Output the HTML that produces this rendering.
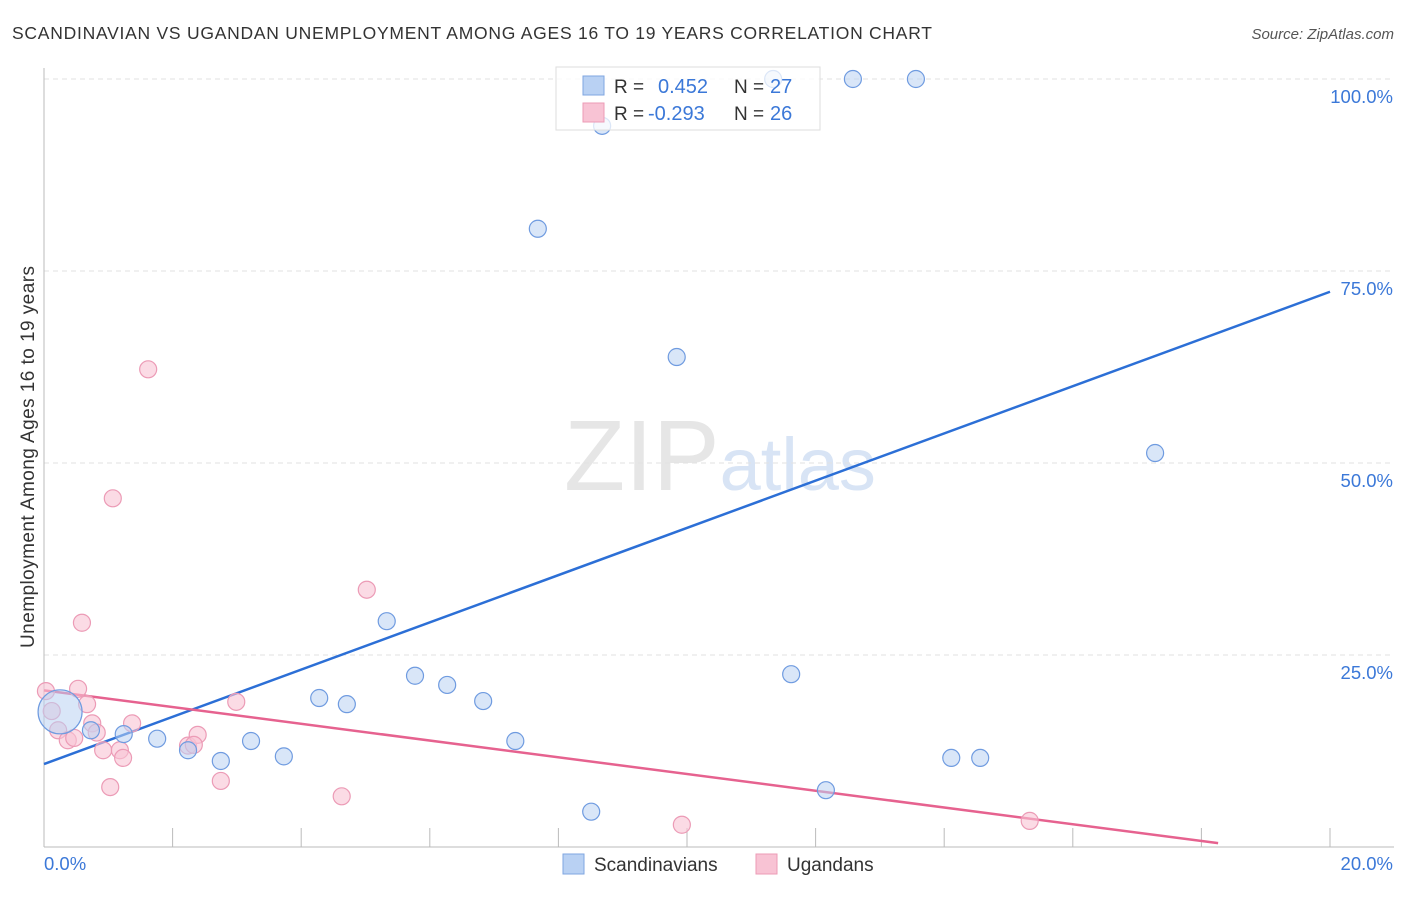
<!DOCTYPE html>
<html><head><meta charset="utf-8"><style>
body{margin:0;background:#fff;font-family:"Liberation Sans",sans-serif}
svg text{font-family:"Liberation Sans",sans-serif}
</style></head><body>
<svg id="chart" width="1406" height="892" xmlns="http://www.w3.org/2000/svg">
<text x="12" y="39" font-size="17.5" fill="#333" textLength="920" lengthAdjust="spacing">SCANDINAVIAN VS UGANDAN UNEMPLOYMENT AMONG AGES 16 TO 19 YEARS CORRELATION CHART</text>
<text x="1394" y="39" font-size="15" fill="#555" font-style="italic" text-anchor="end">Source: ZipAtlas.com</text>
<text x="720" y="490" font-size="100" text-anchor="middle" fill="#e6e6e6" font-family="Liberation Serif">ZIP<tspan fill="#d8e4f5" font-family="Liberation Sans" font-size="74">atlas</tspan></text>
<text transform="translate(34,457) rotate(-90)" font-size="19" fill="#333" text-anchor="middle" textLength="382" lengthAdjust="spacing">Unemployment Among Ages 16 to 19 years</text>
<g id="grid"></g><g id="axes"></g><g id="lines"></g><g id="pts"></g>
<g>
<rect x="556" y="67" width="264" height="63" fill="#fff" fill-opacity="0.75" stroke="#ddd"/>
<rect x="583" y="76" width="21" height="19" fill="#b9d1f3" stroke="#7fa6e0"/>
<rect x="583" y="103" width="21" height="19" fill="#f8c3d4" stroke="#ec9bb6"/>
<text x="614" y="93" font-size="19" fill="#333">R =</text><text x="658" y="93" font-size="20" fill="#3b78d8">0.452</text>
<text x="734" y="93" font-size="19" fill="#333">N =</text><text x="770" y="93" font-size="20" fill="#3b78d8">27</text>
<text x="614" y="120" font-size="19" fill="#333">R =</text><text x="648" y="120" font-size="20" fill="#3b78d8">-0.293</text>
<text x="734" y="120" font-size="19" fill="#333">N =</text><text x="770" y="120" font-size="20" fill="#3b78d8">26</text>
</g>
<g>
<rect x="563" y="854" width="21" height="20" fill="#b9d1f3" stroke="#7fa6e0"/>
<text x="594" y="871" font-size="19" fill="#333">Scandinavians</text>
<rect x="756" y="854" width="21" height="20" fill="#f8c3d4" stroke="#ec9bb6"/>
<text x="787" y="871" font-size="19" fill="#333">Ugandans</text>
</g>
</svg>
<script>
const blueX=[0.25,0.73,1.24,1.76,2.24,2.75,3.22,3.73,4.28,4.71,5.33,5.77,6.27,6.83,7.33,7.68,8.51,8.68,9.84,11.34,11.62,12.16,12.58,13.56,14.11,14.56,17.28];
const blueY=[17.6,15.2,14.7,14.1,12.6,11.2,13.8,11.8,19.4,18.6,29.4,22.3,21.1,19.0,13.8,80.5,4.6,93.9,63.8,100,22.5,7.4,100,100,11.6,11.6,51.3];
const pinkX=[0.03,0.12,0.22,0.37,0.47,0.53,0.67,0.75,0.82,0.59,0.92,1.03,1.07,1.18,1.23,1.37,1.62,2.24,2.39,2.75,2.99,4.63,5.02,9.92,15.33,2.33];
const pinkY=[20.3,17.7,15.2,13.9,14.2,20.6,18.6,16.1,14.9,29.2,12.6,7.8,45.4,12.6,11.6,16.1,62.2,13.2,14.6,8.6,18.9,6.6,33.5,2.9,3.4,13.3];
const blueLine=[10.8,72.3];
const pinkLine=[20.4,0.5,18.26];
const yTicks=[25,50,75,100];
const yTickLabels=["25.0%","50.0%","75.0%","100.0%"];
const xTickLabels=["0.0%","20.0%"];
const NS="http://www.w3.org/2000/svg";
const X=v=>44+v/20*1286, Y=v=>847-v/100*768;
function mk(parent,tag,attrs){const e=document.createElementNS(NS,tag);for(const k in attrs)e.setAttribute(k,attrs[k]);document.getElementById(parent).appendChild(e);return e;}
yTicks.forEach((t,i)=>{
 let g=mk('grid','line',{x1:44,x2:1394,y1:Y(t),y2:Y(t),stroke:'#e2e2e2','stroke-dasharray':'5,4'});
 
 
 let l=mk('axes','text',{x:1393,y:Y(t)+24,'font-size':18.5,fill:'#3b78d8','text-anchor':'end'});l.textContent=yTickLabels[i];
 
 
});
let a=mk('axes','line',{x1:44,x2:44,y1:68,y2:847,stroke:'#bbb'});


let b=mk('axes','line',{x1:44,x2:1394,y1:847,y2:847,stroke:'#bbb'});


for(let i=1;i<=10;i++){let t=mk('axes','line',{x1:X(i*2),x2:X(i*2),y1:828,y2:847,stroke:'#bbb'});
 
 }
let xl=mk('axes','text',{x:44,y:870,'font-size':18.5,fill:'#3b78d8'});xl.textContent=xTickLabels[0];


let xr=mk('axes','text',{x:1393,y:870,'font-size':18.5,fill:'#3b78d8','text-anchor':'end'});xr.textContent=xTickLabels[1];


pinkX.forEach((x,i)=>{const c=mk('pts','circle',{cx:X(x),cy:Y(pinkY[i]),r:8.5,fill:'#f8c3d4','fill-opacity':0.6,stroke:'#ec9bb6','stroke-width':1.2});
 
 });
blueX.forEach((x,i)=>{const c=mk('pts','circle',{cx:X(x),cy:Y(blueY[i]),r:i==0?22:8.5,fill:'#b9d1f3','fill-opacity':0.55,stroke:'#6f9be0','stroke-width':1.2});
 
 });
let bl=mk('lines','line',{x1:X(0),y1:Y(blueLine[0]),x2:X(20),y2:Y(blueLine[1]),stroke:'#2c6fd6','stroke-width':2.5});


let pl=mk('lines','line',{x1:X(0),y1:Y(pinkLine[0]),x2:X(pinkLine[2]),y2:Y(pinkLine[1]),stroke:'#e6628f','stroke-width':2.5});


</script>
</body></html>
